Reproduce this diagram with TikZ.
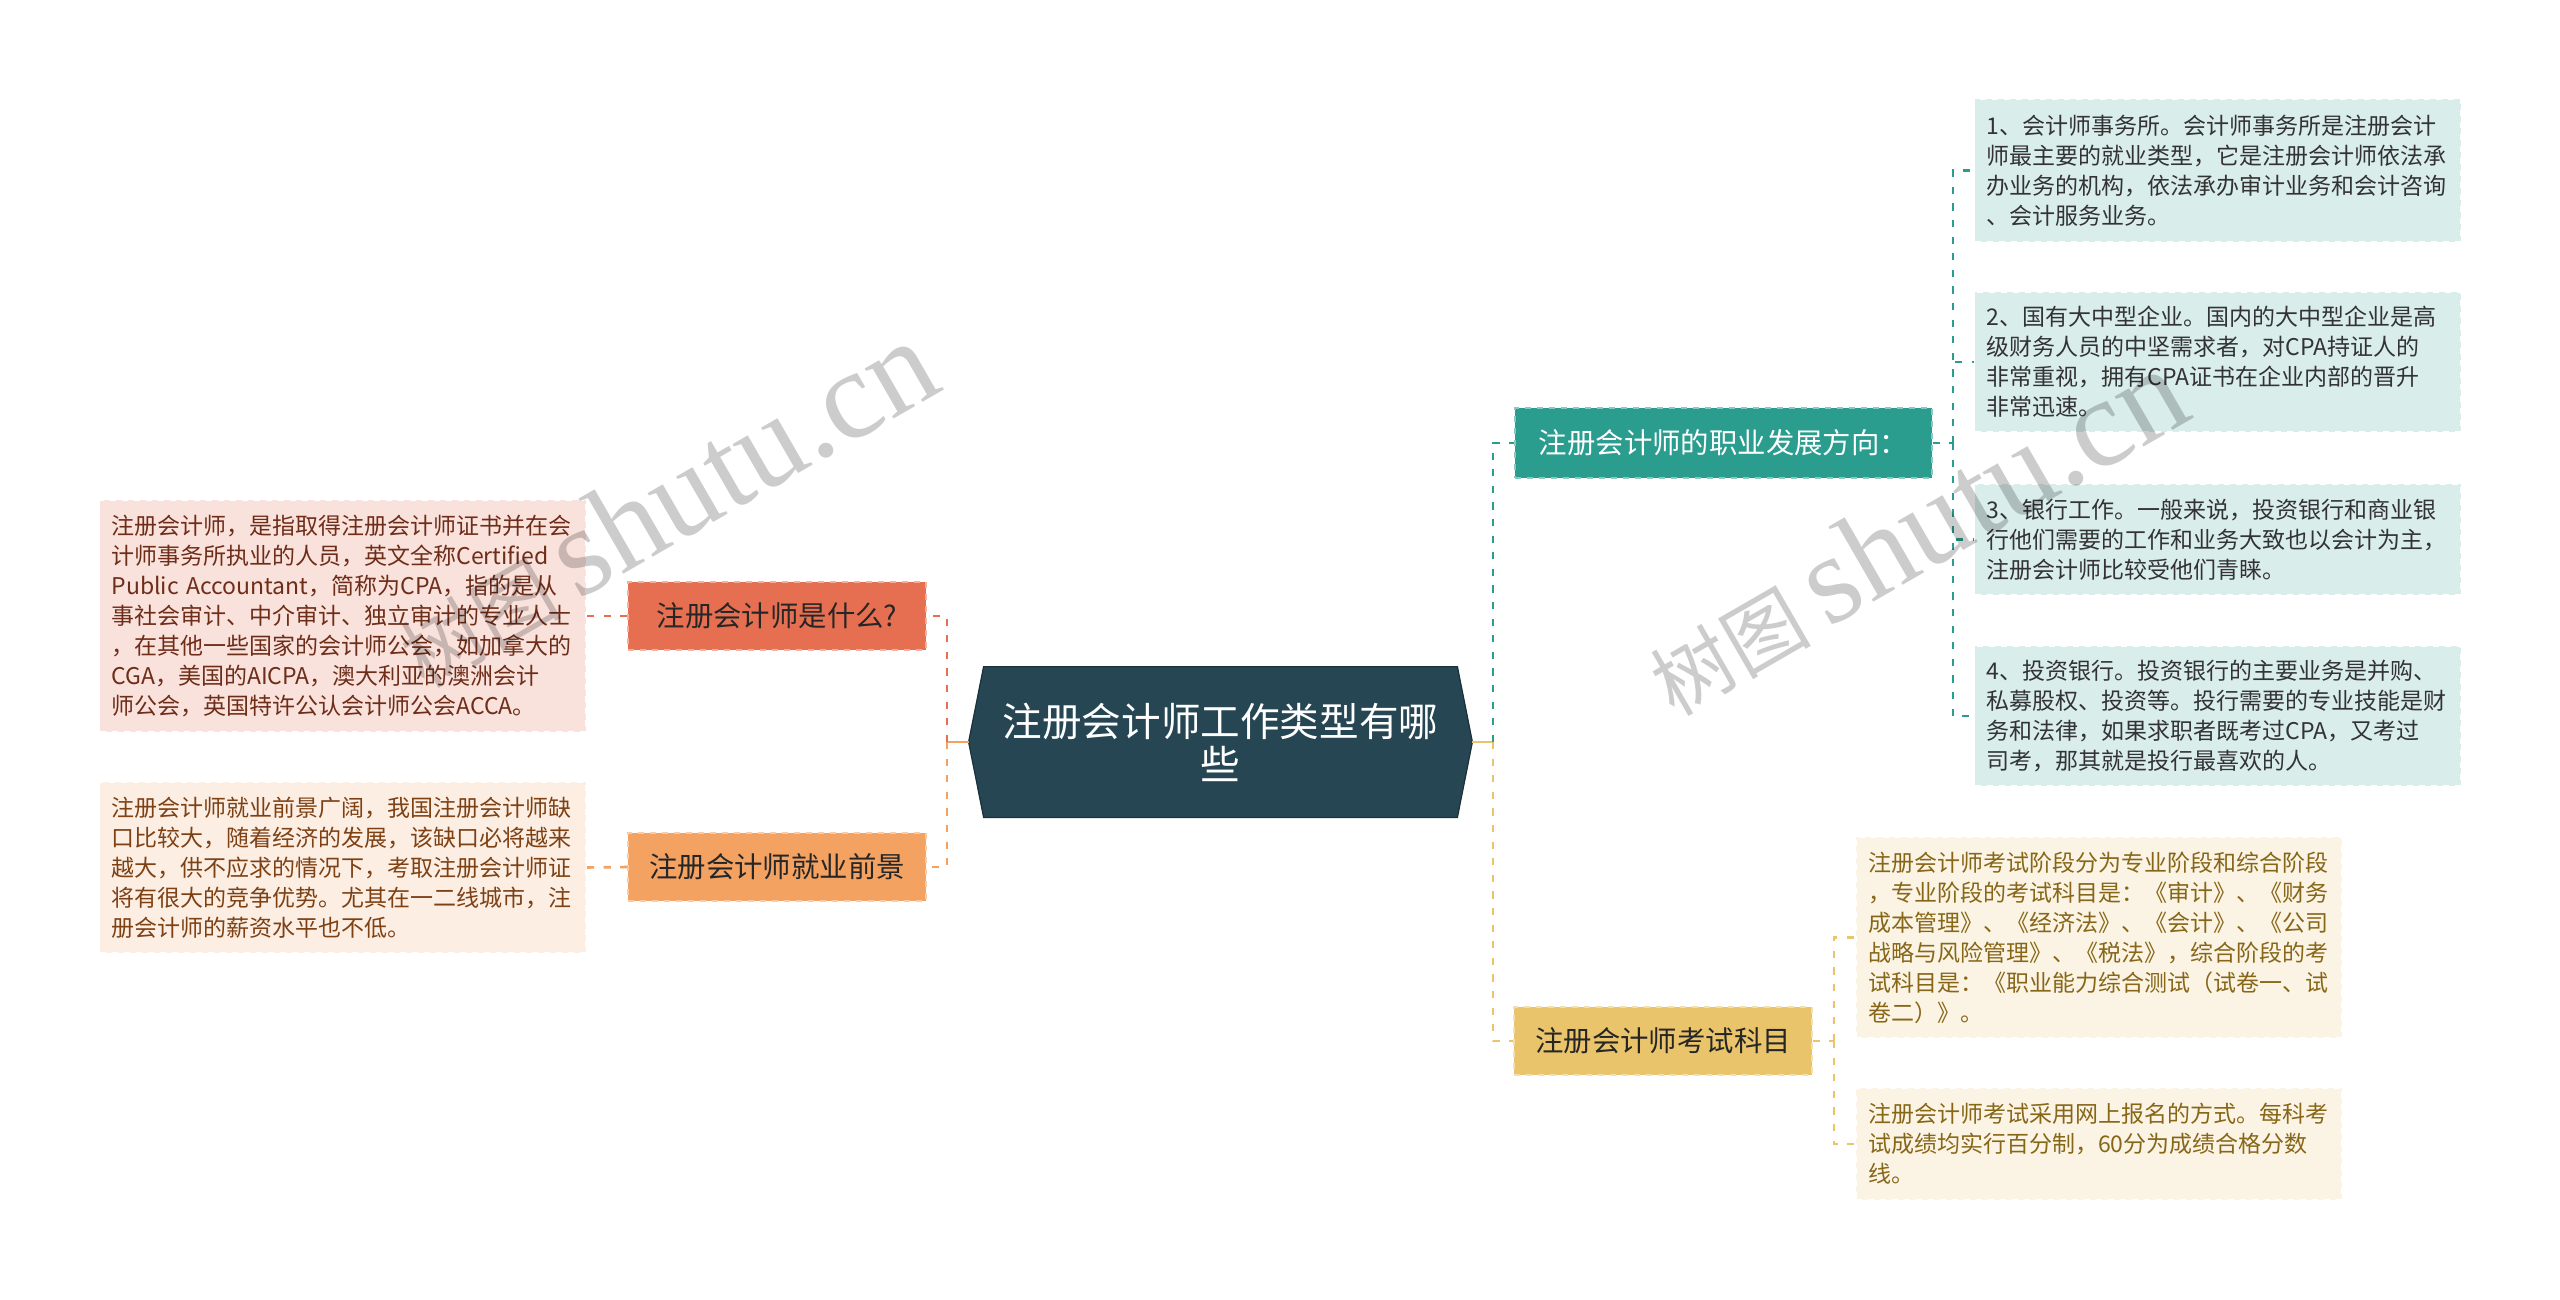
\documentclass[tikz,border=0pt]{standalone}
\usepackage{fontspec}
\setmainfont{Noto Sans CJK SC}
\newfontfamily\marklatin{Liberation Serif}
\usetikzlibrary{backgrounds}

% Farben der Zweige
\definecolor{hubslate}{RGB}{38,70,83}
\definecolor{brcoral}{RGB}{231,111,81}
\definecolor{brsandy}{RGB}{244,162,97}
\definecolor{brteal}{RGB}{42,157,143}
\definecolor{brgold}{RGB}{233,196,106}
\definecolor{coraltext}{RGB}{110,45,25}
\definecolor{sandytext}{RGB}{125,65,20}
\definecolor{tealtext}{RGB}{51,51,51}
\definecolor{goldtext}{RGB}{135,102,24}

\tikzset{
  hub/.style={minimum width=251.5pt, minimum height=75pt, inner sep=0pt, align=center,
    text=white, font=\fontsize{19.8pt}{21.5pt}\selectfont},
  topic/.style={minimum width=149pt, minimum height=34pt, inner sep=0pt,
    font=\fontsize{14.2pt}{17pt}\selectfont, dashed, line width=0.6pt},
  note/.style={text width=231pt, align=left, inner xsep=6pt, inner ysep=0pt,
    font=\fontsize{11.5pt}{15pt}\selectfont, draw=white, dashed, line width=0.6pt},
  link/.style={line width=1.3pt, dash pattern=on 3.6pt off 4.7pt},
  stub/.style={line width=1.3pt},
  watermark/.style={text=black, text opacity=0.2, rotate=30, inner sep=0pt}
}

\begin{document}
\begin{tikzpicture}[x=0.5pt, y=-0.5pt]
    \begin{scope}[on background layer]
        \fill[white] (0,0) rectangle (2560,1300);
    \end{scope}
    \useasboundingbox (0,0) rectangle (2560,1300);

    % Mitte
    \node[hub] (c) at (1220.5,742) {注册会计师工作类型有哪\\些};
    \begin{scope}[on background layer]
        \path[fill=hubslate, draw=hubslate!70!black, line width=0.6pt]
            ([xshift=7.5pt]c.north west) -- ([xshift=-7.5pt]c.north east) -- (c.east) --
            ([xshift=-7.5pt]c.south east) -- ([xshift=7.5pt]c.south west) -- (c.west) -- cycle;
    \end{scope}

    % Linke Seite
    \node[topic, fill=brcoral, draw=brcoral!55!white, text=black!85] (q1) at (777,616) {注册会计师是什么?};
    \node[topic, fill=brsandy, draw=brsandy!55!white, text=black!85] (q2) at (777,867) {注册会计师就业前景};

    \node[note, fill=brcoral!20, text=coraltext, minimum height=116pt] (d1) at (342.5,616)
        {注册会计师，是指取得注册会计师证书并在会\\
         计师事务所执业的人员，英文全称Certified\\
         Public Accountant，简称为CPA，指的是从\\
         事社会审计、中介审计、独立审计的专业人士\\
         ，在其他一些国家的会计师公会，如加拿大的\\
         CGA，美国的AICPA，澳大利亚的澳洲会计\\
         师公会，英国特许公认会计师公会ACCA。};
    \node[note, fill=brsandy!18, text=sandytext, minimum height=85.5pt] (d2) at (342.5,867.5)
        {注册会计师就业前景广阔，我国注册会计师缺\\
         口比较大，随着经济的发展，该缺口必将越来\\
         越大，供不应求的情况下，考取注册会计师证\\
         将有很大的竞争优势。尤其在一二线城市，注\\
         册会计师的薪资水平也不低。};

    % Rechte Seite
    \node[topic, fill=brteal, draw=brteal!55!white, text=white, minimum width=208.5pt, minimum height=35pt]
        (r1) at (1723.5,443) {注册会计师的职业发展方向：};
    \node[topic, fill=brgold, draw=brgold!55!white, text=black!85] (r2) at (1663,1041) {注册会计师考试科目};

    \node[note, fill=brteal!18, text=tealtext, minimum height=71.5pt] (td1) at (2217.5,170.5)
        {1、会计师事务所。会计师事务所是注册会计\\
         师最主要的就业类型，它是注册会计师依法承\\
         办业务的机构，依法承办审计业务和会计咨询\\
         、会计服务业务。};
    \node[note, fill=brteal!18, text=tealtext, minimum height=70pt] (td2) at (2217.5,362)
        {2、国有大中型企业。国内的大中型企业是高\\
         级财务人员的中坚需求者，对CPA持证人的\\
         非常重视，拥有CPA证书在企业内部的晋升\\
         非常迅速。};
    \node[note, fill=brteal!18, text=tealtext, minimum height=55.5pt] (td3) at (2217.5,539.5)
        {3、银行工作。一般来说，投资银行和商业银\\
         行他们需要的工作和业务大致也以会计为主，\\
         注册会计师比较受他们青睐。};
    \node[note, fill=brteal!18, text=tealtext, minimum height=70pt] (td4) at (2217.5,716)
        {4、投资银行。投资银行的主要业务是并购、\\
         私募股权、投资等。投行需要的专业技能是财\\
         务和法律，如果求职者既考过CPA，又考过\\
         司考，那其就是投行最喜欢的人。};

    \node[note, fill=brgold!18, text=goldtext, minimum height=100.5pt] (yd1) at (2099,937.5)
        {注册会计师考试阶段分为专业阶段和综合阶段\\
         ，专业阶段的考试科目是：《审计》、《财务\\
         成本管理》、《经济法》、《会计》、《公司\\
         战略与风险管理》、《税法》，综合阶段的考\\
         试科目是：《职业能力综合测试（试卷一、试\\
         卷二）》。};
    \node[note, fill=brgold!18, text=goldtext, minimum height=56pt] (yd2) at (2099,1144)
        {注册会计师考试采用网上报名的方式。每科考\\
         试成绩均实行百分制，60分为成绩合格分数\\
         线。};

    % Verbindungen
    \coordinate (lj) at (947,742);
    \coordinate (rj) at (1493,742);
    \coordinate (tj) at (1953,443);
    \coordinate (yj) at (1834,1041);

    \draw[stub, brsandy] (c.west) -- (lj);
    \draw[link, brcoral] (lj) |- (q1.east);
    \draw[link, brsandy] (lj) |- (q2.east);
    \draw[link, brcoral] (q1.west) -- (d1.east);
    \draw[link, brsandy] (q2.west) -- (d2.east);

    \draw[stub, brgold] (c.east) -- (rj);
    \draw[link, brteal] (rj) |- (r1.west);
    \draw[link, brgold] (rj) |- (r2.west);
    \draw[link, brteal] (r1.east) -- (tj);
    \foreach \n in {td1,td2,td3,td4}
        \draw[link, brteal] (tj) |- (\n.west);
    \draw[link, brgold] (r2.east) -- (yj);
    \foreach \n in {yd1,yd2}
        \draw[link, brgold] (yj) |- (\n.west);

    % Wasserzeichen
    \node[watermark] (markL) at (665,504)
        {\fontsize{40pt}{40pt}\selectfont 树图 \marklatin\fontsize{63pt}{63pt}\selectfont shutu.cn};
    \node[watermark] (markR) at (1915,532)
        {\fontsize{40pt}{40pt}\selectfont 树图 \marklatin\fontsize{63pt}{63pt}\selectfont shutu.cn};
\end{tikzpicture}
\end{document}
